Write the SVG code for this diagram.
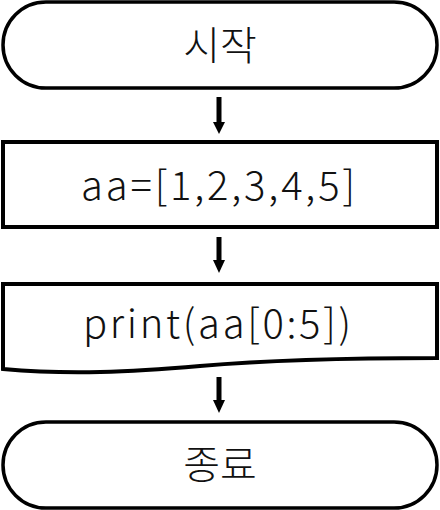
<svg xmlns="http://www.w3.org/2000/svg" width="440" height="510" viewBox="0 0 440 510">
<style>
.shape{fill:#fff;stroke:#000;}
.term{stroke-width:3.5;}
.box{stroke-width:4;}
.lbl{font-family:"Noto Sans CJK KR","Noto Sans",sans-serif;font-weight:300;font-size:40px;fill:#111;text-anchor:middle;}
.shaft{stroke:#000;stroke-width:5;fill:none;}
.head{fill:#000;}
</style>
<rect width="440" height="510" fill="#fff"/>
<g id="start">
<rect class="shape term" x="3" y="2" width="434" height="86" rx="43" ry="43"/>
<text class="lbl" x="220" y="60">시작</text>
</g>
<g id="assign">
<rect class="shape box" x="3" y="142" width="434" height="85"/>
<text class="lbl" x="218" y="200" textLength="274" lengthAdjust="spacing">aa=[1,2,3,4,5]</text>
</g>
<g id="print">
<path class="shape box" d="M3,284 H437 V358 C360,358 270,360 200,366 C130,372 70,375 3,369 Z"/>
<text class="lbl" x="217" y="338" textLength="268" lengthAdjust="spacing">print(aa[0:5])</text>
</g>
<g id="end">
<rect class="shape term" x="3" y="422" width="434" height="86" rx="43" ry="43"/>
<text class="lbl" x="220" y="479">종료</text>
</g>
<g id="connectors">
<line class="shaft" x1="219" y1="97" x2="219" y2="123"/>
<polygon class="head" points="213,122 225,122 219,134"/>
<line class="shaft" x1="219" y1="237" x2="219" y2="261"/>
<polygon class="head" points="213,260 225,260 219,273"/>
<line class="shaft" x1="219" y1="377" x2="219" y2="401"/>
<polygon class="head" points="213,400 225,400 219,413"/>
</g>
</svg>
